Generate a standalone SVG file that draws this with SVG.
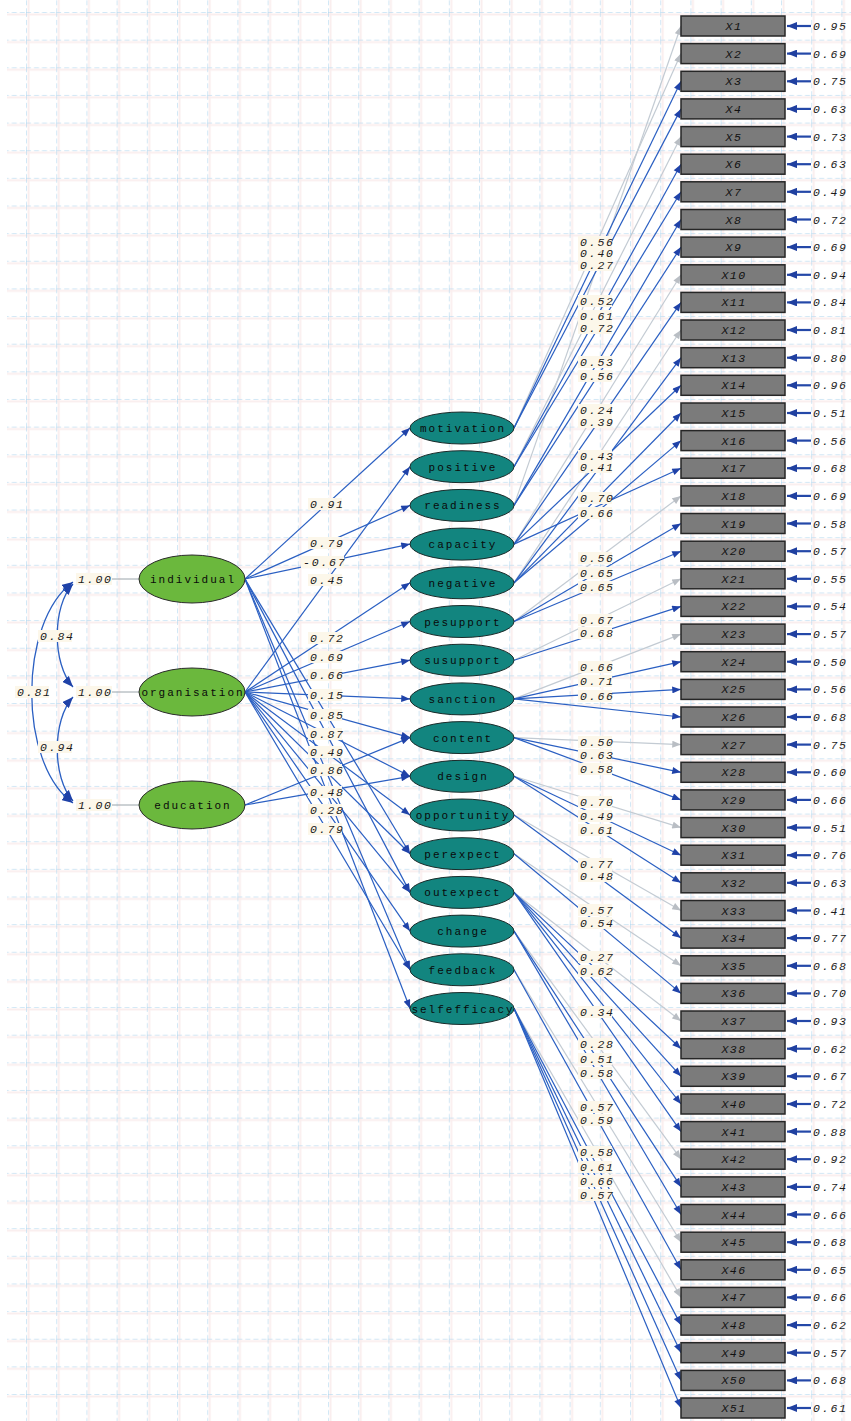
<svg xmlns="http://www.w3.org/2000/svg" width="851" height="1421" viewBox="0 0 851 1421">
<defs>
<style>
.bl{stroke:#2a5fc2;stroke-width:1.2;fill:none}
.gr{stroke:#c3cbd3;stroke-width:1.2;fill:none}
.cv{stroke:#2a5fc2;stroke-width:1.3;fill:none}
.exo{fill:#6bb83d;stroke:#2b2b2b;stroke-width:1}
.endo{fill:#12857f;stroke:#1b2b2a;stroke-width:1}
.box{fill:#7b7b7b;stroke:#262626;stroke-width:1.5}
.nt{font-family:"Liberation Mono",monospace;font-size:11px;letter-spacing:2px;fill:#0a0a0a;text-anchor:middle}
.num{font-family:"Liberation Mono",monospace;font-style:italic;font-size:11.5px;letter-spacing:1.8px;fill:#1c1c1c}
.bt{font-family:"Liberation Mono",monospace;font-style:italic;font-size:11.5px;letter-spacing:1.5px;fill:#111;text-anchor:middle}
.lb{fill:#fcf7ea}
.err{stroke:#2448a8;stroke-width:2.2}
.tie{stroke:#9aa4aa;stroke-width:1}
</style>
<pattern id="grid" patternUnits="userSpaceOnUse" x="26" y="12" width="30.2" height="27.64">
<path d="M2.5,0 V27.64 M0,2.5 H30.2" stroke="#f6dede" stroke-width="2" opacity="0.5"/>
<path d="M0,0 V27.64" stroke="#a6d2ee" stroke-width="1" stroke-dasharray="5 3"/>
<path d="M0,0 H30.2" stroke="#a6d2ee" stroke-width="1" stroke-dasharray="5 3"/>
</pattern>
<marker id="ab" viewBox="0 0 10 8" refX="10" refY="4" markerWidth="10" markerHeight="7" markerUnits="userSpaceOnUse" orient="auto"><path d="M0,0 L10,4 L0,8 z" fill="#1f42a8"/></marker>
<marker id="ag" viewBox="0 0 10 8" refX="10" refY="4" markerWidth="10" markerHeight="7" markerUnits="userSpaceOnUse" orient="auto"><path d="M0,0 L10,4 L0,8 z" fill="#b9bec4"/></marker>
<marker id="ae" viewBox="0 0 10 8" refX="10" refY="4" markerWidth="10" markerHeight="8" markerUnits="userSpaceOnUse" orient="auto"><path d="M0,0 L10,4 L0,8 z" fill="#2040a0"/></marker>
<marker id="ac" viewBox="0 0 10 8" refX="10" refY="4" markerWidth="11" markerHeight="9" markerUnits="userSpaceOnUse" orient="auto-start-reverse"><path d="M0,0 L10,4 L0,8 z" fill="#1f42a8"/></marker>
</defs>
<rect x="0" y="0" width="851" height="1421" fill="#ffffff"/>
<rect x="7" y="0" width="844" height="1421" fill="url(#grid)"/>

<g id="connectors">
<path class="cv" d="M73,584 C52,606 52,664 73,687" marker-start="url(#ac)" marker-end="url(#ac)"/>
<path class="cv" d="M73,697 C52,720 52,778 73,801" marker-start="url(#ac)" marker-end="url(#ac)"/>
<path class="cv" d="M73,582 C18,622 18,764 73,803" marker-start="url(#ac)" marker-end="url(#ac)"/>
<line class="bl" x1="245" y1="579" x2="410" y2="428" marker-end="url(#ab)"/>
<line class="bl" x1="245" y1="579" x2="410" y2="505.4" marker-end="url(#ab)"/>
<line class="bl" x1="245" y1="579" x2="410" y2="544.1" marker-end="url(#ab)"/>
<line class="bl" x1="245" y1="579" x2="410" y2="853.7" marker-end="url(#ab)"/>
<line class="bl" x1="245" y1="579" x2="410" y2="892.4" marker-end="url(#ab)"/>
<line class="bl" x1="245" y1="579" x2="410" y2="969.8" marker-end="url(#ab)"/>
<line class="bl" x1="245" y1="579" x2="410" y2="1008.5" marker-end="url(#ab)"/>
<line class="bl" x1="245" y1="692" x2="410" y2="466.7" marker-end="url(#ab)"/>
<line class="bl" x1="245" y1="692" x2="410" y2="582.8" marker-end="url(#ab)"/>
<line class="bl" x1="245" y1="692" x2="410" y2="621.5" marker-end="url(#ab)"/>
<line class="bl" x1="245" y1="692" x2="410" y2="660.2" marker-end="url(#ab)"/>
<line class="bl" x1="245" y1="692" x2="410" y2="698.9" marker-end="url(#ab)"/>
<line class="bl" x1="245" y1="692" x2="410" y2="737.6" marker-end="url(#ab)"/>
<line class="bl" x1="245" y1="692" x2="410" y2="776.3" marker-end="url(#ab)"/>
<line class="bl" x1="245" y1="692" x2="410" y2="815" marker-end="url(#ab)"/>
<line class="bl" x1="245" y1="692" x2="410" y2="853.7" marker-end="url(#ab)"/>
<line class="bl" x1="245" y1="692" x2="410" y2="892.4" marker-end="url(#ab)"/>
<line class="bl" x1="245" y1="692" x2="410" y2="931.1" marker-end="url(#ab)"/>
<line class="bl" x1="245" y1="692" x2="410" y2="969.8" marker-end="url(#ab)"/>
<line class="bl" x1="245" y1="805" x2="410" y2="737.6" marker-end="url(#ab)"/>
<line class="bl" x1="245" y1="805" x2="410" y2="776.3" marker-end="url(#ab)"/>
<line class="gr" x1="514" y1="505.4" x2="681" y2="26" marker-end="url(#ag)"/>
<line class="gr" x1="514" y1="428" x2="681" y2="53.6" marker-end="url(#ag)"/>
<line class="gr" x1="514" y1="466.7" x2="681" y2="136.6" marker-end="url(#ag)"/>
<line class="gr" x1="514" y1="544.1" x2="681" y2="274.8" marker-end="url(#ag)"/>
<line class="gr" x1="514" y1="582.8" x2="681" y2="330" marker-end="url(#ag)"/>
<line class="gr" x1="514" y1="621.5" x2="681" y2="495.9" marker-end="url(#ag)"/>
<line class="gr" x1="514" y1="660.2" x2="681" y2="578.8" marker-end="url(#ag)"/>
<line class="gr" x1="514" y1="698.9" x2="681" y2="634.1" marker-end="url(#ag)"/>
<line class="gr" x1="514" y1="737.6" x2="681" y2="744.6" marker-end="url(#ag)"/>
<line class="gr" x1="514" y1="776.3" x2="681" y2="827.6" marker-end="url(#ag)"/>
<line class="gr" x1="514" y1="815" x2="681" y2="910.5" marker-end="url(#ag)"/>
<line class="gr" x1="514" y1="853.7" x2="681" y2="965.8" marker-end="url(#ag)"/>
<line class="gr" x1="514" y1="892.4" x2="681" y2="1021" marker-end="url(#ag)"/>
<line class="gr" x1="514" y1="931.1" x2="681" y2="1159.2" marker-end="url(#ag)"/>
<line class="gr" x1="514" y1="969.8" x2="681" y2="1242.2" marker-end="url(#ag)"/>
<line class="gr" x1="514" y1="1008.5" x2="681" y2="1297.4" marker-end="url(#ag)"/>
<line class="bl" x1="514" y1="428" x2="681" y2="81.3" marker-end="url(#ab)"/>
<line class="bl" x1="514" y1="428" x2="681" y2="108.9" marker-end="url(#ab)"/>
<line class="bl" x1="514" y1="466.7" x2="681" y2="164.2" marker-end="url(#ab)"/>
<line class="bl" x1="514" y1="466.7" x2="681" y2="191.8" marker-end="url(#ab)"/>
<line class="bl" x1="514" y1="505.4" x2="681" y2="219.5" marker-end="url(#ab)"/>
<line class="bl" x1="514" y1="505.4" x2="681" y2="247.1" marker-end="url(#ab)"/>
<line class="bl" x1="514" y1="544.1" x2="681" y2="302.4" marker-end="url(#ab)"/>
<line class="bl" x1="514" y1="544.1" x2="681" y2="385.3" marker-end="url(#ab)"/>
<line class="bl" x1="514" y1="544.1" x2="681" y2="468.2" marker-end="url(#ab)"/>
<line class="bl" x1="514" y1="582.8" x2="681" y2="357.7" marker-end="url(#ab)"/>
<line class="bl" x1="514" y1="582.8" x2="681" y2="413" marker-end="url(#ab)"/>
<line class="bl" x1="514" y1="582.8" x2="681" y2="440.6" marker-end="url(#ab)"/>
<line class="bl" x1="514" y1="621.5" x2="681" y2="523.5" marker-end="url(#ab)"/>
<line class="bl" x1="514" y1="621.5" x2="681" y2="551.2" marker-end="url(#ab)"/>
<line class="bl" x1="514" y1="660.2" x2="681" y2="606.4" marker-end="url(#ab)"/>
<line class="bl" x1="514" y1="698.9" x2="681" y2="661.7" marker-end="url(#ab)"/>
<line class="bl" x1="514" y1="698.9" x2="681" y2="689.4" marker-end="url(#ab)"/>
<line class="bl" x1="514" y1="698.9" x2="681" y2="717" marker-end="url(#ab)"/>
<line class="bl" x1="514" y1="737.6" x2="681" y2="772.3" marker-end="url(#ab)"/>
<line class="bl" x1="514" y1="737.6" x2="681" y2="799.9" marker-end="url(#ab)"/>
<line class="bl" x1="514" y1="776.3" x2="681" y2="855.2" marker-end="url(#ab)"/>
<line class="bl" x1="514" y1="776.3" x2="681" y2="882.8" marker-end="url(#ab)"/>
<line class="bl" x1="514" y1="815" x2="681" y2="938.1" marker-end="url(#ab)"/>
<line class="bl" x1="514" y1="853.7" x2="681" y2="993.4" marker-end="url(#ab)"/>
<line class="bl" x1="514" y1="892.4" x2="681" y2="1048.7" marker-end="url(#ab)"/>
<line class="bl" x1="514" y1="892.4" x2="681" y2="1076.3" marker-end="url(#ab)"/>
<line class="bl" x1="514" y1="892.4" x2="681" y2="1104" marker-end="url(#ab)"/>
<line class="bl" x1="514" y1="892.4" x2="681" y2="1131.6" marker-end="url(#ab)"/>
<line class="bl" x1="514" y1="931.1" x2="681" y2="1186.9" marker-end="url(#ab)"/>
<line class="bl" x1="514" y1="931.1" x2="681" y2="1214.5" marker-end="url(#ab)"/>
<line class="bl" x1="514" y1="969.8" x2="681" y2="1269.8" marker-end="url(#ab)"/>
<line class="bl" x1="514" y1="1008.5" x2="681" y2="1325.1" marker-end="url(#ab)"/>
<line class="bl" x1="514" y1="1008.5" x2="681" y2="1352.7" marker-end="url(#ab)"/>
<line class="bl" x1="514" y1="1008.5" x2="681" y2="1380.4" marker-end="url(#ab)"/>
<line class="bl" x1="514" y1="1008.5" x2="681" y2="1408" marker-end="url(#ab)"/>
</g>

<g id="individual"><line class="tie" x1="112" y1="579" x2="139" y2="579"/><rect class="lb" x="76" y="573" width="36" height="12"/><text class="num" x="78" y="583">1.00</text><ellipse class="exo" cx="192" cy="579" rx="53" ry="24"/><text class="nt" x="193" y="583">individual</text></g>
<g id="organisation"><line class="tie" x1="112" y1="692" x2="139" y2="692"/><rect class="lb" x="76" y="686" width="36" height="12"/><text class="num" x="78" y="696">1.00</text><ellipse class="exo" cx="192" cy="692" rx="53" ry="24"/><text class="nt" x="193" y="696">organisation</text></g>
<g id="education"><line class="tie" x1="112" y1="805" x2="139" y2="805"/><rect class="lb" x="76" y="799" width="36" height="12"/><text class="num" x="78" y="809">1.00</text><ellipse class="exo" cx="192" cy="805" rx="53" ry="24"/><text class="nt" x="193" y="809">education</text></g>

<g id="motivation"><ellipse class="endo" cx="462" cy="428" rx="52" ry="16"/><text class="nt" x="463" y="432">motivation</text></g>
<g id="positive"><ellipse class="endo" cx="462" cy="466.7" rx="52" ry="16"/><text class="nt" x="463" y="470.7">positive</text></g>
<g id="readiness"><ellipse class="endo" cx="462" cy="505.4" rx="52" ry="16"/><text class="nt" x="463" y="509.4">readiness</text></g>
<g id="capacity"><ellipse class="endo" cx="462" cy="544.1" rx="52" ry="16"/><text class="nt" x="463" y="548.1">capacity</text></g>
<g id="negative"><ellipse class="endo" cx="462" cy="582.8" rx="52" ry="16"/><text class="nt" x="463" y="586.8">negative</text></g>
<g id="pesupport"><ellipse class="endo" cx="462" cy="621.5" rx="52" ry="16"/><text class="nt" x="463" y="625.5">pesupport</text></g>
<g id="susupport"><ellipse class="endo" cx="462" cy="660.2" rx="52" ry="16"/><text class="nt" x="463" y="664.2">susupport</text></g>
<g id="sanction"><ellipse class="endo" cx="462" cy="698.9" rx="52" ry="16"/><text class="nt" x="463" y="702.9">sanction</text></g>
<g id="content"><ellipse class="endo" cx="462" cy="737.6" rx="52" ry="16"/><text class="nt" x="463" y="741.6">content</text></g>
<g id="design"><ellipse class="endo" cx="462" cy="776.3" rx="52" ry="16"/><text class="nt" x="463" y="780.3">design</text></g>
<g id="opportunity"><ellipse class="endo" cx="462" cy="815" rx="52" ry="16"/><text class="nt" x="463" y="819">opportunity</text></g>
<g id="perexpect"><ellipse class="endo" cx="462" cy="853.7" rx="52" ry="16"/><text class="nt" x="463" y="857.7">perexpect</text></g>
<g id="outexpect"><ellipse class="endo" cx="462" cy="892.4" rx="52" ry="16"/><text class="nt" x="463" y="896.4">outexpect</text></g>
<g id="change"><ellipse class="endo" cx="462" cy="931.1" rx="52" ry="16"/><text class="nt" x="463" y="935.1">change</text></g>
<g id="feedback"><ellipse class="endo" cx="462" cy="969.8" rx="52" ry="16"/><text class="nt" x="463" y="973.8">feedback</text></g>
<g id="selfefficacy"><ellipse class="endo" cx="462" cy="1008.5" rx="52" ry="16"/><text class="nt" x="463" y="1012.5">selfefficacy</text></g>

<g id="X1"><rect class="box" x="681" y="16" width="104" height="20"/><text class="bt" x="734" y="30">X1</text><line class="err" x1="811" y1="26" x2="787" y2="26" marker-end="url(#ae)"/><text class="num" x="813" y="30">0.95</text></g>
<g id="X2"><rect class="box" x="681" y="43.6" width="104" height="20"/><text class="bt" x="734" y="57.6">X2</text><line class="err" x1="811" y1="53.6" x2="787" y2="53.6" marker-end="url(#ae)"/><text class="num" x="813" y="57.6">0.69</text></g>
<g id="X3"><rect class="box" x="681" y="71.3" width="104" height="20"/><text class="bt" x="734" y="85.3">X3</text><line class="err" x1="811" y1="81.3" x2="787" y2="81.3" marker-end="url(#ae)"/><text class="num" x="813" y="85.3">0.75</text></g>
<g id="X4"><rect class="box" x="681" y="98.9" width="104" height="20"/><text class="bt" x="734" y="112.9">X4</text><line class="err" x1="811" y1="108.9" x2="787" y2="108.9" marker-end="url(#ae)"/><text class="num" x="813" y="112.9">0.63</text></g>
<g id="X5"><rect class="box" x="681" y="126.6" width="104" height="20"/><text class="bt" x="734" y="140.6">X5</text><line class="err" x1="811" y1="136.6" x2="787" y2="136.6" marker-end="url(#ae)"/><text class="num" x="813" y="140.6">0.73</text></g>
<g id="X6"><rect class="box" x="681" y="154.2" width="104" height="20"/><text class="bt" x="734" y="168.2">X6</text><line class="err" x1="811" y1="164.2" x2="787" y2="164.2" marker-end="url(#ae)"/><text class="num" x="813" y="168.2">0.63</text></g>
<g id="X7"><rect class="box" x="681" y="181.8" width="104" height="20"/><text class="bt" x="734" y="195.8">X7</text><line class="err" x1="811" y1="191.8" x2="787" y2="191.8" marker-end="url(#ae)"/><text class="num" x="813" y="195.8">0.49</text></g>
<g id="X8"><rect class="box" x="681" y="209.5" width="104" height="20"/><text class="bt" x="734" y="223.5">X8</text><line class="err" x1="811" y1="219.5" x2="787" y2="219.5" marker-end="url(#ae)"/><text class="num" x="813" y="223.5">0.72</text></g>
<g id="X9"><rect class="box" x="681" y="237.1" width="104" height="20"/><text class="bt" x="734" y="251.1">X9</text><line class="err" x1="811" y1="247.1" x2="787" y2="247.1" marker-end="url(#ae)"/><text class="num" x="813" y="251.1">0.69</text></g>
<g id="X10"><rect class="box" x="681" y="264.8" width="104" height="20"/><text class="bt" x="734" y="278.8">X10</text><line class="err" x1="811" y1="274.8" x2="787" y2="274.8" marker-end="url(#ae)"/><text class="num" x="813" y="278.8">0.94</text></g>
<g id="X11"><rect class="box" x="681" y="292.4" width="104" height="20"/><text class="bt" x="734" y="306.4">X11</text><line class="err" x1="811" y1="302.4" x2="787" y2="302.4" marker-end="url(#ae)"/><text class="num" x="813" y="306.4">0.84</text></g>
<g id="X12"><rect class="box" x="681" y="320" width="104" height="20"/><text class="bt" x="734" y="334">X12</text><line class="err" x1="811" y1="330" x2="787" y2="330" marker-end="url(#ae)"/><text class="num" x="813" y="334">0.81</text></g>
<g id="X13"><rect class="box" x="681" y="347.7" width="104" height="20"/><text class="bt" x="734" y="361.7">X13</text><line class="err" x1="811" y1="357.7" x2="787" y2="357.7" marker-end="url(#ae)"/><text class="num" x="813" y="361.7">0.80</text></g>
<g id="X14"><rect class="box" x="681" y="375.3" width="104" height="20"/><text class="bt" x="734" y="389.3">X14</text><line class="err" x1="811" y1="385.3" x2="787" y2="385.3" marker-end="url(#ae)"/><text class="num" x="813" y="389.3">0.96</text></g>
<g id="X15"><rect class="box" x="681" y="403" width="104" height="20"/><text class="bt" x="734" y="417">X15</text><line class="err" x1="811" y1="413" x2="787" y2="413" marker-end="url(#ae)"/><text class="num" x="813" y="417">0.51</text></g>
<g id="X16"><rect class="box" x="681" y="430.6" width="104" height="20"/><text class="bt" x="734" y="444.6">X16</text><line class="err" x1="811" y1="440.6" x2="787" y2="440.6" marker-end="url(#ae)"/><text class="num" x="813" y="444.6">0.56</text></g>
<g id="X17"><rect class="box" x="681" y="458.2" width="104" height="20"/><text class="bt" x="734" y="472.2">X17</text><line class="err" x1="811" y1="468.2" x2="787" y2="468.2" marker-end="url(#ae)"/><text class="num" x="813" y="472.2">0.68</text></g>
<g id="X18"><rect class="box" x="681" y="485.9" width="104" height="20"/><text class="bt" x="734" y="499.9">X18</text><line class="err" x1="811" y1="495.9" x2="787" y2="495.9" marker-end="url(#ae)"/><text class="num" x="813" y="499.9">0.69</text></g>
<g id="X19"><rect class="box" x="681" y="513.5" width="104" height="20"/><text class="bt" x="734" y="527.5">X19</text><line class="err" x1="811" y1="523.5" x2="787" y2="523.5" marker-end="url(#ae)"/><text class="num" x="813" y="527.5">0.58</text></g>
<g id="X20"><rect class="box" x="681" y="541.2" width="104" height="20"/><text class="bt" x="734" y="555.2">X20</text><line class="err" x1="811" y1="551.2" x2="787" y2="551.2" marker-end="url(#ae)"/><text class="num" x="813" y="555.2">0.57</text></g>
<g id="X21"><rect class="box" x="681" y="568.8" width="104" height="20"/><text class="bt" x="734" y="582.8">X21</text><line class="err" x1="811" y1="578.8" x2="787" y2="578.8" marker-end="url(#ae)"/><text class="num" x="813" y="582.8">0.55</text></g>
<g id="X22"><rect class="box" x="681" y="596.4" width="104" height="20"/><text class="bt" x="734" y="610.4">X22</text><line class="err" x1="811" y1="606.4" x2="787" y2="606.4" marker-end="url(#ae)"/><text class="num" x="813" y="610.4">0.54</text></g>
<g id="X23"><rect class="box" x="681" y="624.1" width="104" height="20"/><text class="bt" x="734" y="638.1">X23</text><line class="err" x1="811" y1="634.1" x2="787" y2="634.1" marker-end="url(#ae)"/><text class="num" x="813" y="638.1">0.57</text></g>
<g id="X24"><rect class="box" x="681" y="651.7" width="104" height="20"/><text class="bt" x="734" y="665.7">X24</text><line class="err" x1="811" y1="661.7" x2="787" y2="661.7" marker-end="url(#ae)"/><text class="num" x="813" y="665.7">0.50</text></g>
<g id="X25"><rect class="box" x="681" y="679.4" width="104" height="20"/><text class="bt" x="734" y="693.4">X25</text><line class="err" x1="811" y1="689.4" x2="787" y2="689.4" marker-end="url(#ae)"/><text class="num" x="813" y="693.4">0.56</text></g>
<g id="X26"><rect class="box" x="681" y="707" width="104" height="20"/><text class="bt" x="734" y="721">X26</text><line class="err" x1="811" y1="717" x2="787" y2="717" marker-end="url(#ae)"/><text class="num" x="813" y="721">0.68</text></g>
<g id="X27"><rect class="box" x="681" y="734.6" width="104" height="20"/><text class="bt" x="734" y="748.6">X27</text><line class="err" x1="811" y1="744.6" x2="787" y2="744.6" marker-end="url(#ae)"/><text class="num" x="813" y="748.6">0.75</text></g>
<g id="X28"><rect class="box" x="681" y="762.3" width="104" height="20"/><text class="bt" x="734" y="776.3">X28</text><line class="err" x1="811" y1="772.3" x2="787" y2="772.3" marker-end="url(#ae)"/><text class="num" x="813" y="776.3">0.60</text></g>
<g id="X29"><rect class="box" x="681" y="789.9" width="104" height="20"/><text class="bt" x="734" y="803.9">X29</text><line class="err" x1="811" y1="799.9" x2="787" y2="799.9" marker-end="url(#ae)"/><text class="num" x="813" y="803.9">0.66</text></g>
<g id="X30"><rect class="box" x="681" y="817.6" width="104" height="20"/><text class="bt" x="734" y="831.6">X30</text><line class="err" x1="811" y1="827.6" x2="787" y2="827.6" marker-end="url(#ae)"/><text class="num" x="813" y="831.6">0.51</text></g>
<g id="X31"><rect class="box" x="681" y="845.2" width="104" height="20"/><text class="bt" x="734" y="859.2">X31</text><line class="err" x1="811" y1="855.2" x2="787" y2="855.2" marker-end="url(#ae)"/><text class="num" x="813" y="859.2">0.76</text></g>
<g id="X32"><rect class="box" x="681" y="872.8" width="104" height="20"/><text class="bt" x="734" y="886.8">X32</text><line class="err" x1="811" y1="882.8" x2="787" y2="882.8" marker-end="url(#ae)"/><text class="num" x="813" y="886.8">0.63</text></g>
<g id="X33"><rect class="box" x="681" y="900.5" width="104" height="20"/><text class="bt" x="734" y="914.5">X33</text><line class="err" x1="811" y1="910.5" x2="787" y2="910.5" marker-end="url(#ae)"/><text class="num" x="813" y="914.5">0.41</text></g>
<g id="X34"><rect class="box" x="681" y="928.1" width="104" height="20"/><text class="bt" x="734" y="942.1">X34</text><line class="err" x1="811" y1="938.1" x2="787" y2="938.1" marker-end="url(#ae)"/><text class="num" x="813" y="942.1">0.77</text></g>
<g id="X35"><rect class="box" x="681" y="955.8" width="104" height="20"/><text class="bt" x="734" y="969.8">X35</text><line class="err" x1="811" y1="965.8" x2="787" y2="965.8" marker-end="url(#ae)"/><text class="num" x="813" y="969.8">0.68</text></g>
<g id="X36"><rect class="box" x="681" y="983.4" width="104" height="20"/><text class="bt" x="734" y="997.4">X36</text><line class="err" x1="811" y1="993.4" x2="787" y2="993.4" marker-end="url(#ae)"/><text class="num" x="813" y="997.4">0.70</text></g>
<g id="X37"><rect class="box" x="681" y="1011" width="104" height="20"/><text class="bt" x="734" y="1025">X37</text><line class="err" x1="811" y1="1021" x2="787" y2="1021" marker-end="url(#ae)"/><text class="num" x="813" y="1025">0.93</text></g>
<g id="X38"><rect class="box" x="681" y="1038.7" width="104" height="20"/><text class="bt" x="734" y="1052.7">X38</text><line class="err" x1="811" y1="1048.7" x2="787" y2="1048.7" marker-end="url(#ae)"/><text class="num" x="813" y="1052.7">0.62</text></g>
<g id="X39"><rect class="box" x="681" y="1066.3" width="104" height="20"/><text class="bt" x="734" y="1080.3">X39</text><line class="err" x1="811" y1="1076.3" x2="787" y2="1076.3" marker-end="url(#ae)"/><text class="num" x="813" y="1080.3">0.67</text></g>
<g id="X40"><rect class="box" x="681" y="1094" width="104" height="20"/><text class="bt" x="734" y="1108">X40</text><line class="err" x1="811" y1="1104" x2="787" y2="1104" marker-end="url(#ae)"/><text class="num" x="813" y="1108">0.72</text></g>
<g id="X41"><rect class="box" x="681" y="1121.6" width="104" height="20"/><text class="bt" x="734" y="1135.6">X41</text><line class="err" x1="811" y1="1131.6" x2="787" y2="1131.6" marker-end="url(#ae)"/><text class="num" x="813" y="1135.6">0.88</text></g>
<g id="X42"><rect class="box" x="681" y="1149.2" width="104" height="20"/><text class="bt" x="734" y="1163.2">X42</text><line class="err" x1="811" y1="1159.2" x2="787" y2="1159.2" marker-end="url(#ae)"/><text class="num" x="813" y="1163.2">0.92</text></g>
<g id="X43"><rect class="box" x="681" y="1176.9" width="104" height="20"/><text class="bt" x="734" y="1190.9">X43</text><line class="err" x1="811" y1="1186.9" x2="787" y2="1186.9" marker-end="url(#ae)"/><text class="num" x="813" y="1190.9">0.74</text></g>
<g id="X44"><rect class="box" x="681" y="1204.5" width="104" height="20"/><text class="bt" x="734" y="1218.5">X44</text><line class="err" x1="811" y1="1214.5" x2="787" y2="1214.5" marker-end="url(#ae)"/><text class="num" x="813" y="1218.5">0.66</text></g>
<g id="X45"><rect class="box" x="681" y="1232.2" width="104" height="20"/><text class="bt" x="734" y="1246.2">X45</text><line class="err" x1="811" y1="1242.2" x2="787" y2="1242.2" marker-end="url(#ae)"/><text class="num" x="813" y="1246.2">0.68</text></g>
<g id="X46"><rect class="box" x="681" y="1259.8" width="104" height="20"/><text class="bt" x="734" y="1273.8">X46</text><line class="err" x1="811" y1="1269.8" x2="787" y2="1269.8" marker-end="url(#ae)"/><text class="num" x="813" y="1273.8">0.65</text></g>
<g id="X47"><rect class="box" x="681" y="1287.4" width="104" height="20"/><text class="bt" x="734" y="1301.4">X47</text><line class="err" x1="811" y1="1297.4" x2="787" y2="1297.4" marker-end="url(#ae)"/><text class="num" x="813" y="1301.4">0.66</text></g>
<g id="X48"><rect class="box" x="681" y="1315.1" width="104" height="20"/><text class="bt" x="734" y="1329.1">X48</text><line class="err" x1="811" y1="1325.1" x2="787" y2="1325.1" marker-end="url(#ae)"/><text class="num" x="813" y="1329.1">0.62</text></g>
<g id="X49"><rect class="box" x="681" y="1342.7" width="104" height="20"/><text class="bt" x="734" y="1356.7">X49</text><line class="err" x1="811" y1="1352.7" x2="787" y2="1352.7" marker-end="url(#ae)"/><text class="num" x="813" y="1356.7">0.57</text></g>
<g id="X50"><rect class="box" x="681" y="1370.4" width="104" height="20"/><text class="bt" x="734" y="1384.4">X50</text><line class="err" x1="811" y1="1380.4" x2="787" y2="1380.4" marker-end="url(#ae)"/><text class="num" x="813" y="1384.4">0.68</text></g>
<g id="X51"><rect class="box" x="681" y="1398" width="104" height="20"/><text class="bt" x="734" y="1412">X51</text><line class="err" x1="811" y1="1408" x2="787" y2="1408" marker-end="url(#ae)"/><text class="num" x="813" y="1412">0.61</text></g>

<g id="connector-labels">
<rect class="lb" x="38" y="630" width="34" height="12"/><text class="num" x="40" y="640">0.84</text>
<rect class="lb" x="38" y="741" width="34" height="12"/><text class="num" x="40" y="751">0.94</text>
<rect class="lb" x="15" y="686" width="34" height="12"/><text class="num" x="17" y="696">0.81</text>
<rect class="lb" x="308" y="498" width="34" height="12"/><text class="num" x="310" y="508">0.91</text>
<rect class="lb" x="308" y="537" width="34" height="12"/><text class="num" x="310" y="547">0.79</text>
<rect class="lb" x="301" y="556" width="43" height="12"/><text class="num" x="303" y="566">-0.67</text>
<rect class="lb" x="308" y="574" width="34" height="12"/><text class="num" x="310" y="584">0.45</text>
<rect class="lb" x="308" y="632" width="34" height="12"/><text class="num" x="310" y="642">0.72</text>
<rect class="lb" x="308" y="651" width="34" height="12"/><text class="num" x="310" y="661">0.69</text>
<rect class="lb" x="308" y="669" width="34" height="12"/><text class="num" x="310" y="679">0.66</text>
<rect class="lb" x="308" y="689" width="34" height="12"/><text class="num" x="310" y="699">0.15</text>
<rect class="lb" x="308" y="709" width="34" height="12"/><text class="num" x="310" y="719">0.85</text>
<rect class="lb" x="308" y="728" width="34" height="12"/><text class="num" x="310" y="738">0.87</text>
<rect class="lb" x="308" y="746" width="34" height="12"/><text class="num" x="310" y="756">0.49</text>
<rect class="lb" x="308" y="764" width="34" height="12"/><text class="num" x="310" y="774">0.86</text>
<rect class="lb" x="308" y="786" width="34" height="12"/><text class="num" x="310" y="796">0.48</text>
<rect class="lb" x="308" y="804" width="34" height="12"/><text class="num" x="310" y="814">0.28</text>
<rect class="lb" x="308" y="823" width="34" height="12"/><text class="num" x="310" y="833">0.79</text>

<rect class="lb" x="578" y="236" width="34" height="12"/><text class="num" x="580" y="246">0.56</text>
<rect class="lb" x="578" y="247" width="34" height="12"/><text class="num" x="580" y="257">0.40</text>
<rect class="lb" x="578" y="259" width="34" height="12"/><text class="num" x="580" y="269">0.27</text>
<rect class="lb" x="578" y="295" width="34" height="12"/><text class="num" x="580" y="305">0.52</text>
<rect class="lb" x="578" y="310" width="34" height="12"/><text class="num" x="580" y="320">0.61</text>
<rect class="lb" x="578" y="322" width="34" height="12"/><text class="num" x="580" y="332">0.72</text>
<rect class="lb" x="578" y="356" width="34" height="12"/><text class="num" x="580" y="366">0.53</text>
<rect class="lb" x="578" y="370" width="34" height="12"/><text class="num" x="580" y="380">0.56</text>
<rect class="lb" x="578" y="404" width="34" height="12"/><text class="num" x="580" y="414">0.24</text>
<rect class="lb" x="578" y="416" width="34" height="12"/><text class="num" x="580" y="426">0.39</text>
<rect class="lb" x="578" y="461" width="34" height="12"/><text class="num" x="580" y="471">0.41</text>
<rect class="lb" x="578" y="450" width="34" height="12"/><text class="num" x="580" y="460">0.43</text>
<rect class="lb" x="578" y="492" width="34" height="12"/><text class="num" x="580" y="502">0.70</text>
<rect class="lb" x="578" y="507" width="34" height="12"/><text class="num" x="580" y="517">0.66</text>
<rect class="lb" x="578" y="552" width="34" height="12"/><text class="num" x="580" y="562">0.56</text>
<rect class="lb" x="578" y="567" width="34" height="12"/><text class="num" x="580" y="577">0.65</text>
<rect class="lb" x="578" y="581" width="34" height="12"/><text class="num" x="580" y="591">0.65</text>
<rect class="lb" x="578" y="614" width="34" height="12"/><text class="num" x="580" y="624">0.67</text>
<rect class="lb" x="578" y="627" width="34" height="12"/><text class="num" x="580" y="637">0.68</text>
<rect class="lb" x="578" y="661" width="34" height="12"/><text class="num" x="580" y="671">0.66</text>
<rect class="lb" x="578" y="675" width="34" height="12"/><text class="num" x="580" y="685">0.71</text>
<rect class="lb" x="578" y="690" width="34" height="12"/><text class="num" x="580" y="700">0.66</text>
<rect class="lb" x="578" y="736" width="34" height="12"/><text class="num" x="580" y="746">0.50</text>
<rect class="lb" x="578" y="749" width="34" height="12"/><text class="num" x="580" y="759">0.63</text>
<rect class="lb" x="578" y="763" width="34" height="12"/><text class="num" x="580" y="773">0.58</text>
<rect class="lb" x="578" y="796" width="34" height="12"/><text class="num" x="580" y="806">0.70</text>
<rect class="lb" x="578" y="810" width="34" height="12"/><text class="num" x="580" y="820">0.49</text>
<rect class="lb" x="578" y="824" width="34" height="12"/><text class="num" x="580" y="834">0.61</text>
<rect class="lb" x="578" y="858" width="34" height="12"/><text class="num" x="580" y="868">0.77</text>
<rect class="lb" x="578" y="870" width="34" height="12"/><text class="num" x="580" y="880">0.48</text>
<rect class="lb" x="578" y="904" width="34" height="12"/><text class="num" x="580" y="914">0.57</text>
<rect class="lb" x="578" y="917" width="34" height="12"/><text class="num" x="580" y="927">0.54</text>
<rect class="lb" x="578" y="951" width="34" height="12"/><text class="num" x="580" y="961">0.27</text>
<rect class="lb" x="578" y="965" width="34" height="12"/><text class="num" x="580" y="975">0.62</text>
<rect class="lb" x="578" y="1006" width="34" height="12"/><text class="num" x="580" y="1016">0.34</text>
<rect class="lb" x="578" y="1038" width="34" height="12"/><text class="num" x="580" y="1048">0.28</text>
<rect class="lb" x="578" y="1053" width="34" height="12"/><text class="num" x="580" y="1063">0.51</text>
<rect class="lb" x="578" y="1067" width="34" height="12"/><text class="num" x="580" y="1077">0.58</text>
<rect class="lb" x="578" y="1101" width="34" height="12"/><text class="num" x="580" y="1111">0.57</text>
<rect class="lb" x="578" y="1114" width="34" height="12"/><text class="num" x="580" y="1124">0.59</text>
<rect class="lb" x="578" y="1146" width="34" height="12"/><text class="num" x="580" y="1156">0.58</text>
<rect class="lb" x="578" y="1161" width="34" height="12"/><text class="num" x="580" y="1171">0.61</text>
<rect class="lb" x="578" y="1175" width="34" height="12"/><text class="num" x="580" y="1185">0.66</text>
<rect class="lb" x="578" y="1189" width="34" height="12"/><text class="num" x="580" y="1199">0.57</text>
</g>
</svg>
